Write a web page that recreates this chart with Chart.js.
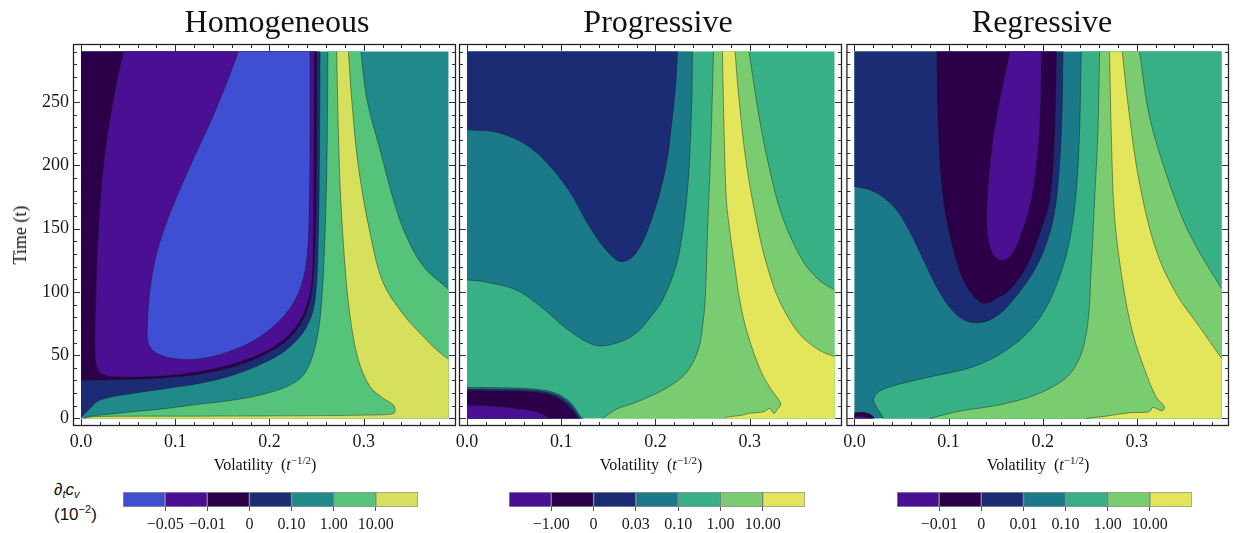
<!DOCTYPE html>
<html>
<head>
<meta charset="utf-8">
<script src="https://cdn.jsdelivr.net/npm/chart.js@4.4.0/dist/chart.umd.min.js"></script>
<style>
  body { margin: 0; background: #fff; width: 1233px; height: 533px; position: relative; overflow: hidden;
         font-family: 'Liberation Serif', serif; color: #111; }
  canvas { position: absolute; }
  .title { position: absolute; top: 5px; font-size: 32px; line-height: 32px; transform: translateX(-50%); white-space: nowrap; }
  .xlab { position: absolute; top: 457px; font-size: 16px; line-height: 16px; transform: translateX(-50%); white-space: nowrap; }
  .xlab sup { font-size: 11px; line-height: 0; vertical-align: 6px; }
  .ylab { position: absolute; left: 20px; top: 235px; font-size: 18px; line-height: 18px; white-space: nowrap;
          transform: translate(-50%, -50%) rotate(-90deg); }
  .unit { position: absolute; left: 54px; font-family: 'Liberation Sans', sans-serif; font-size: 17px; line-height: 17px; white-space: nowrap; }
  .unit sub { font-size: 11px; line-height: 0; vertical-align: -3px; }
  .unit sup { font-size: 11px; line-height: 0; vertical-align: 7px; }
</style>
</head>
<body>
<canvas id="hom" width="470" height="470" style="left:0;top:0"></canvas>
<canvas id="prog" width="410" height="470" style="left:450px;top:0"></canvas>
<canvas id="reg" width="395" height="470" style="left:838px;top:0"></canvas>
<canvas id="cbHom" width="335" height="49" style="left:103px;top:484px"></canvas>
<canvas id="cbProg" width="336" height="49" style="left:489px;top:484px"></canvas>
<canvas id="cbReg" width="335" height="49" style="left:877px;top:484px"></canvas>

<div class="title" style="left:277px">Homogeneous</div>
<div class="title" style="left:658px">Progressive</div>
<div class="title" style="left:1042px">Regressive</div>
<div class="xlab" style="left:265px">Volatility&nbsp; (<i>t</i><sup>−1/2</sup>)</div>
<div class="xlab" style="left:651px">Volatility&nbsp; (<i>t</i><sup>−1/2</sup>)</div>
<div class="xlab" style="left:1038px">Volatility&nbsp; (<i>t</i><sup>−1/2</sup>)</div>
<div class="ylab">Time (t)</div>
<div class="unit" style="top:481px"><i>∂<sub>t</sub>c<sub>v</sub></i></div>
<div class="unit" style="top:506px">(10<sup>−2</sup>)</div>

<script>
// domain of the contour grids
const X_MAX = 0.39, T_MAX = 290;
const xTickVals = [0, 0.1, 0.2, 0.3];
const tTickVals = [0, 50, 100, 150, 200, 250];

// ---- Homogeneous: contour regions as [volatility, time] outlines ----
const homBase = [[0, 0], [0.39, 0], [0.39, 290], [0, 290]];
const homNavy = [[0, 0.8], [0.0096, 7.9], [0.0202, 14.5], [0.0556, 19.8], [0.0909, 23.7], [0.1263, 27.7], [0.1617, 34.3],
  [0.1971, 44.9], [0.2219, 56.7], [0.2396, 72.6], [0.2484, 93.7], [0.2519, 146.4], [0.2532, 220], [0.2537, 290], [0, 290]];
const homGreen = [[0.004, 0], [0.006, 1.3], [0.0202, 2.6], [0.0556, 5.3], [0.0909, 7.9], [0.1263, 11.3], [0.1617, 14.5],
  [0.1971, 19.8], [0.2254, 27.7], [0.2396, 38.3], [0.2502, 62.0], [0.2555, 93.7], [0.259, 146.4], [0.2612, 212.4],
  [0.262, 290], [0.297, 290], [0.3035, 252], [0.3174, 212.4], [0.3316, 172.8], [0.3439, 146.4], [0.3634, 120.1],
  [0.39, 102.1], [0.39, 0]];
const homDark = [[0, 30.3], [0.0202, 30.3], [0.0556, 30.9], [0.0909, 32.2], [0.1263, 35.1], [0.1617, 40.9], [0.19, 48.8],
  [0.2148, 59.4], [0.2325, 73.9], [0.2431, 93.7], [0.2473, 120.1], [0.2495, 172.8], [0.2502, 290], [0, 290]];
const homPurple = [[0.0449, 290], [0.0343, 252], [0.0237, 199.2], [0.0184, 146.4], [0.0156, 93.7], [0.0149, 54.1],
  [0.0166, 40.9], [0.0219, 35.1], [0.0343, 33.0], [0.0732, 33.0], [0.1086, 35.1], [0.144, 39.6], [0.1794, 47.5],
  [0.2077, 58.0], [0.2254, 69.9], [0.2378, 85.8], [0.2449, 106.9], [0.2466, 146.4], [0.2472, 199.2], [0.2475, 290]];
const homBlue = [[0.167, 290], [0.1546, 265.2], [0.1369, 233.5], [0.1157, 199.2], [0.0945, 162.3], [0.0803, 130.6],
  [0.0732, 101.6], [0.0708, 77.8], [0.0715, 59.4], [0.0803, 51.5], [0.1051, 46.7], [0.1334, 48.0], [0.1617, 54.1],
  [0.19, 64.6], [0.2148, 80.5], [0.2307, 98.9], [0.2396, 125.3], [0.2424, 172.8], [0.2431, 225.6], [0.2431, 290]];
const homYellow = [[0.2714, 290], [0.2732, 225.6], [0.2757, 172.8], [0.2803, 120.1], [0.2856, 80.5], [0.2944, 46.2],
  [0.3068, 25.1], [0.3209, 15.8], [0.3316, 10.6], [0.3333, 5.3], [0.3298, 3.4], [0.3033, 2.6], [0.2325, 2.1],
  [0.1263, 1.8], [0.0202, 1.6], [0.006, 0.8], [0.004, 0], [0.39, 0], [0.39, 46.7], [0.3776, 54.1], [0.3599, 67.3],
  [0.3439, 80.5], [0.3209, 106.9], [0.3068, 146.4], [0.2944, 199.2], [0.2873, 252], [0.2838, 290]];

// ---- Progressive ----
const progBase = [[0, 0], [0.39, 0], [0.39, 290], [0, 290]];
const progTeal = [[0, 109.5], [0.0169, 108.2], [0.0522, 101.6], [0.0805, 87.1], [0.1052, 71.2], [0.1352, 58.0],
  [0.1581, 59.4], [0.1793, 67.3], [0.1952, 80.5], [0.2076, 93.7], [0.2217, 120.1], [0.2287, 146.4], [0.233, 172.8],
  [0.2358, 199.2], [0.2386, 252], [0.2393, 290], [0, 290]];
const progNavy = [[0, 228.2], [0.0346, 225.6], [0.0699, 212.4], [0.1052, 183.4], [0.1299, 151.7], [0.1475, 133.2],
  [0.1634, 124.0], [0.1793, 130.6], [0.197, 159.6], [0.2111, 199.2], [0.2181, 238.8], [0.2217, 265.2], [0.2234, 290], [0, 290]];
const progLight = [[0.144, 0], [0.158, 7.1], [0.1765, 11.9], [0.1934, 17.2], [0.2111, 23.7], [0.2287, 33.0],
  [0.2393, 43.5], [0.2464, 56.7], [0.25, 72.6], [0.2528, 93.7], [0.2552, 146.4], [0.2587, 212.4], [0.2616, 290],
  [0.2993, 290], [0.3099, 238.8], [0.3205, 199.2], [0.3346, 159.6], [0.3558, 125.3], [0.3735, 109.5], [0.39, 101.6], [0.39, 0]];
const progYellow = [[0.2711, 290], [0.2729, 225.6], [0.2753, 172.8], [0.2792, 146.4], [0.2842, 120.1], [0.2894, 93.7],
  [0.2976, 67.3], [0.3099, 40.9], [0.3187, 27.7], [0.3258, 19.8], [0.3311, 14.5], [0.3329, 10.6], [0.3293, 7.1],
  [0.3258, 4.0], [0.3212, 7.9], [0.3152, 5.3], [0.2993, 4.0], [0.2923, 2.6], [0.2746, 0.8], [0.2739, 0], [0.39, 0],
  [0.39, 48.8], [0.3735, 54.1], [0.3523, 67.3], [0.3311, 93.7], [0.3187, 120.1], [0.3099, 146.4], [0.2969, 199.2],
  [0.2887, 252], [0.2845, 290]];
const progLowTeal = [[0, 0], [0, 24.5], [0.024, 24.4], [0.0595, 23.8], [0.077, 22.8], [0.0949, 19.8], [0.109, 13.2],
  [0.116, 6.6], [0.121, 1], [0.1235, 0]];
const progLowNavy = [[0, 0], [0, 23.2], [0.024, 23.1], [0.0595, 22.6], [0.077, 21.6], [0.0935, 18.8], [0.1075, 12.6],
  [0.1148, 6.3], [0.1195, 1], [0.1215, 0]];
const progLowDark = [[0, 0], [0, 21.8], [0.024, 21.7], [0.0595, 21.2], [0.077, 20.2], [0.092, 17.5], [0.105, 11.5],
  [0.113, 5], [0.117, 1], [0.119, 0]];
const progLowPurple = [[0, 0], [0, 10.5], [0.024, 10.0], [0.0595, 7.1], [0.077, 4.4], [0.0878, 0]];

// ---- Regressive ----
const regBase = [[0, 0], [0.39, 0], [0.39, 290], [0, 290]];
const regNavy = [[0, 183.4], [0.0205, 179.4], [0.0417, 167.5], [0.0558, 151.7], [0.0734, 125.3], [0.0911, 98.9],
  [0.1087, 81.8], [0.1264, 75.7], [0.1475, 79.2], [0.1687, 93.7], [0.1934, 120.1], [0.2075, 146.4], [0.2146, 172.8],
  [0.2199, 225.6], [0.2217, 290], [0, 290]];
const regDark = [[0.0875, 290], [0.0893, 225.6], [0.0946, 172.8], [0.1052, 133.2], [0.1193, 104.2], [0.137, 91.0],
  [0.1546, 96.3], [0.1652, 101.6], [0.1828, 120.1], [0.197, 146.4], [0.2075, 172.8], [0.2128, 225.6], [0.2146, 290]];
const regPurple = [[0.1652, 290], [0.1581, 265.2], [0.1511, 238.8], [0.1458, 212.4], [0.1422, 186], [0.1405, 159.6],
  [0.1422, 141.2], [0.1475, 129.3], [0.1564, 124.8], [0.167, 129.3], [0.1776, 146.4], [0.1881, 172.8], [0.1952, 212.4],
  [0.198, 252], [0.1987, 290]];
const regSea = [[0.0311, 0], [0.0222, 10.6], [0.0205, 15.8], [0.0258, 21.1], [0.0381, 25.1], [0.0734, 31.7],
  [0.1264, 40.9], [0.1617, 54.1], [0.1899, 72.6], [0.2111, 98.9], [0.2287, 141.2], [0.2376, 199.2], [0.2411, 290],
  [0.39, 290], [0.39, 0]];
const regLight = [[0.0805, 0], [0.1087, 5.3], [0.1617, 11.9], [0.204, 22.4], [0.2323, 38.3], [0.2464, 67.3],
  [0.2517, 120.1], [0.2552, 172.8], [0.2587, 225.6], [0.2605, 290], [0.3029, 290], [0.3134, 238.8], [0.3311, 193.9],
  [0.3523, 151.7], [0.3735, 122.7], [0.39, 102.9], [0.39, 0]];
const regYellow = [[0.2711, 290], [0.2729, 225.6], [0.2764, 159.6], [0.2852, 106.9], [0.2958, 67.3], [0.3099, 35.6],
  [0.3205, 17.2], [0.3293, 9.2], [0.3269, 6.1], [0.317, 8.7], [0.3134, 5.3], [0.2923, 4.5], [0.2676, 1.8], [0.2464, 0],
  [0.39, 0], [0.39, 47.5], [0.3664, 72.6], [0.3417, 98.9], [0.3205, 133.2], [0.3029, 186], [0.2923, 238.8], [0.2845, 290]];
const regLowDark = [[0, 0], [0, 4.5], [0.008, 4.8], [0.015, 3.8], [0.02, 1.5], [0.021, 0]];
const regLowPurple = [[0, 0], [0, 1.8], [0.01, 1.5], [0.018, 0]];

// colour bar bins and their boundary labels
const homBins = ['blue', 'purple', 'dark', 'navy', 'teal', 'green', 'yellowA'];
const homBinLabels = ['−0.05', '−0.01', '0', '0.10', '1.00', '10.00'];
const progBins = ['purple', 'dark', 'navy', 'tealB', 'sea', 'light', 'yellowB'];
const progBinLabels = ['−1.00', '0', '0.03', '0.10', '1.00', '10.00'];
const regBins = ['purple', 'dark', 'navy', 'tealB', 'sea', 'light', 'yellowB'];
const regBinLabels = ['−0.01', '0', '0.01', '0.10', '1.00', '10.00'];

const palette = {
  blue: '#3f4fd4', purple: '#4a0f92', dark: '#2b0049', navy: '#1b2c74', teal: '#208a8b', green: '#56c37a',
  yellowA: '#d6e05c', tealB: '#1b7a8a', sea: '#38b086', light: '#79cd70', yellowB: '#e3e55b'
};
const LINE = 'rgba(25,25,25,0.55)';
const serif = 'Liberation Serif';

const onBorder = ([x, y]) => x <= 0 || x >= X_MAX || y <= 0 || y >= T_MAX;

// hide stroke on segments lying on the border of the grid
const onEdge = c => {
  const a = c.p0.parsed, b = c.p1.parsed;
  return (a.x === b.x && (a.x <= 0 || a.x >= X_MAX)) || (a.y === b.y && (a.y <= 0 || a.y >= T_MAX));
};

function buildDatasets(layers) {
  const out = [];
  layers.forEach(([pts, col]) => {
    // doubled border points keep the spline from bulging past the grid edge
    const data = pts.flatMap(p => onBorder(p) ? [p, p] : [p]).map(([x, y]) => ({ x, y }));
    out.push({ data, showLine: true, fill: 'shape', backgroundColor: palette[col], borderWidth: 0, pointRadius: 0, tension: 0.35 });
    out.push({ data, showLine: true, fill: false, borderColor: LINE, borderWidth: 0.8, pointRadius: 0, tension: 0.35,
      segment: { borderColor: c => onEdge(c) ? 'rgba(0,0,0,0)' : undefined } });
  });
  // first layer must be painted first
  out.forEach((d, i) => { d.order = out.length - i; });
  return out;
}

const framePlugin = {
  id: 'frame',
  afterDraw(chart) {
    const { ctx, chartArea: a } = chart;
    const xs = chart.scales.x, ys = chart.scales.y;
    ctx.save();
    ctx.strokeStyle = '#333';
    ctx.lineWidth = 1;
    ctx.beginPath();
    for (let i = 0; i <= 19; i++) {
      const p = Math.round(xs.getPixelForValue(i * 0.02)) + 0.5;
      const len = i % 5 === 0 ? 7 : 4;
      ctx.moveTo(p, a.bottom); ctx.lineTo(p, a.bottom - len);
      ctx.moveTo(p, a.top); ctx.lineTo(p, a.top + len);
    }
    for (let i = 0; i <= 29; i++) {
      const p = Math.round(ys.getPixelForValue(i * 10)) + 0.5;
      const len = i % 5 === 0 ? 7 : 4;
      ctx.moveTo(a.left, p); ctx.lineTo(a.left + len, p);
      ctx.moveTo(a.right, p); ctx.lineTo(a.right - len, p);
    }
    ctx.stroke();
    ctx.lineWidth = 1.3;
    ctx.strokeStyle = '#222';
    ctx.strokeRect(a.left + 0.5, a.top + 0.5, a.width - 1, a.height - 1);
    ctx.restore();
  }
};

function contourChart(id, layers, pad, showT) {
  const cv = document.getElementById(id);
  return new Chart(cv, {
    type: 'scatter',
    data: { datasets: buildDatasets(layers) },
    options: {
      responsive: false, animation: false, devicePixelRatio: 1, events: [],
      layout: { padding: { left: pad.left, right: pad.right, top: 44, bottom: 0 } },
      plugins: { legend: { display: false }, tooltip: { enabled: false } },
      scales: {
        x: {
          type: 'linear', min: -0.0085, max: 0.398,
          afterBuildTicks: s => { s.ticks = xTickVals.map(v => ({ value: v })); },
          afterFit: s => { s.height = cv.height - 426; },
          grid: { display: false, drawTicks: false }, border: { display: false },
          ticks: { autoSkip: false, maxRotation: 0, padding: 5, color: '#1a1a1a',
            font: { family: serif, size: 18 }, callback: v => v.toFixed(1) }
        },
        y: {
          type: 'linear', min: -6, max: 296, display: showT,
          afterBuildTicks: s => { s.ticks = tTickVals.map(v => ({ value: v })); },
          afterFit: s => { s.width = showT ? 73 : 0; },
          grid: { display: false, drawTicks: false }, border: { display: false },
          ticks: { autoSkip: false, padding: 4, color: '#1a1a1a',
            font: { family: serif, size: 18 }, callback: v => String(v) }
        }
      }
    },
    plugins: [framePlugin]
  });
}

function colourBar(id, bins, labels) {
  return new Chart(document.getElementById(id), {
    type: 'bar',
    data: {
      labels: [''],
      datasets: bins.map(b => ({ data: [1], backgroundColor: palette[b], borderColor: 'rgba(40,40,40,0.5)',
        borderWidth: 1, borderSkipped: false, barPercentage: 1, categoryPercentage: 1 }))
    },
    options: {
      indexAxis: 'y', responsive: false, animation: false, devicePixelRatio: 1, events: [],
      layout: { padding: { left: 20, right: 20, top: 8, bottom: 0 } },
      plugins: { legend: { display: false }, tooltip: { enabled: false } },
      scales: {
        x: {
          type: 'linear', stacked: true, min: 0, max: bins.length,
          afterBuildTicks: s => { s.ticks = labels.map((l, i) => ({ value: i + 1 })); },
          afterFit: s => { s.height = 26; },
          grid: { drawOnChartArea: false, drawTicks: true, tickLength: 4, color: '#555' },
          border: { display: false },
          ticks: { autoSkip: false, maxRotation: 0, padding: 4, color: '#1a1a1a',
            font: { family: serif, size: 16 }, callback: (v, i) => labels[i] }
        },
        y: { stacked: true, display: false }
      }
    }
  });
}

contourChart('hom', [[homBase, 'teal'], [homNavy, 'navy'], [homGreen, 'green'], [homDark, 'dark'],
  [homPurple, 'purple'], [homBlue, 'blue'], [homYellow, 'yellowA']], { left: 0, right: 14 }, true);
contourChart('prog', [[progBase, 'sea'], [progTeal, 'tealB'], [progNavy, 'navy'], [progLight, 'light'],
  [progYellow, 'yellowB'], [progLowTeal, 'tealB'], [progLowNavy, 'navy'], [progLowDark, 'dark'],
  [progLowPurple, 'purple']], { left: 9, right: 18 }, false);
contourChart('reg', [[regBase, 'tealB'], [regNavy, 'navy'], [regDark, 'dark'], [regPurple, 'purple'],
  [regSea, 'sea'], [regLight, 'light'], [regYellow, 'yellowB'], [regLowDark, 'dark'], [regLowPurple, 'purple']],
  { left: 8, right: 4 }, false);

colourBar('cbHom', homBins, homBinLabels);
colourBar('cbProg', progBins, progBinLabels);
colourBar('cbReg', regBins, regBinLabels);
</script>
</body>
</html>
